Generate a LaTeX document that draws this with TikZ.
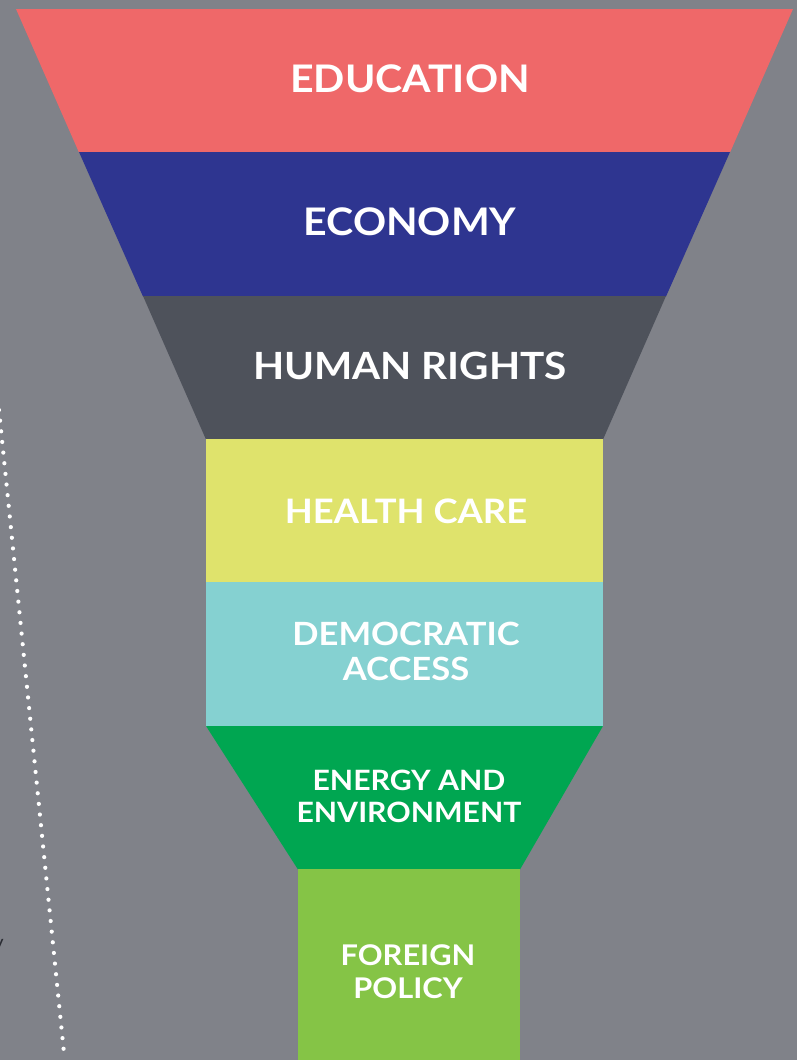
\documentclass[tikz,border=0pt]{standalone}
\usepackage{fontspec}
\setmainfont{Lato}[FakeStretch=1.08]
\newfontfamily\fragfont{Lato}
\definecolor{bg}{HTML}{808289}
\definecolor{cedu}{HTML}{EF6869}
\definecolor{ceco}{HTML}{2E3590}
\definecolor{chum}{HTML}{4E525B}
\definecolor{chea}{HTML}{DFE36C}
\definecolor{cdem}{HTML}{85D1D1}
\definecolor{cene}{HTML}{00A651}
\definecolor{cfor}{HTML}{85C446}
\definecolor{cdark}{HTML}{2A2C33}
\tikzset{
  lbl/.style={text=white, inner sep=0pt, align=center, font=\bfseries},
  dotline/.style={white, line width=4.2pt, line cap=round, dash pattern=on 0pt off 10.7pt},
}
\begin{document}
\begin{tikzpicture}[x=1pt,y=-1pt]
\fill[bg] (0,0) rectangle (797,1060);
\useasboundingbox (0,0) rectangle (797,1060);
% funnel bands
\fill[cedu] (16,9) -- (793,9) -- (730,152.5) -- (79,152.5) -- cycle;
\fill[ceco] (79,152) -- (730,152) -- (666,296.5) -- (143,296.5) -- cycle;
\fill[chum] (143,296) -- (666,296) -- (603,439.5) -- (206,439.5) -- cycle;
\fill[chea] (206,439) rectangle (603,582.5);
\fill[cdem] (206,582) rectangle (603,726.5);
\fill[cene] (206,726) -- (603,726) -- (520,869.5) -- (298,869.5) -- cycle;
\fill[cfor] (298,869) rectangle (520,1061);
% labels
\node[lbl, font=\bfseries\fontsize{38}{46}\selectfont] (edu) at (410,79) {EDUCATION};
\node[lbl, font=\bfseries\fontsize{38}{46}\selectfont] (eco) at (410,222) {ECONOMY};
\node[lbl, font=\bfseries\fontsize{37.5}{44}\selectfont] (hum) at (410,366) {HUMAN RIGHTS};
\node[lbl, font=\bfseries\fontsize{33.7}{40}\selectfont] (hea) at (406,511) {HEALTH CARE};
\node[lbl, font=\bfseries\fontsize{32}{35}\selectfont] (dem) at (406,651) {DEMOCRATIC\\ACCESS};
\node[lbl, font=\bfseries\fontsize{28}{32}\selectfont] (ene) at (409,796) {ENERGY AND\\ENVIRONMENT};
\node[lbl, font=\bfseries\fontsize{28.5}{33}\selectfont] (for) at (408,972) {FOREIGN\\POLICY};
% dotted line
\coordinate (dtop) at (-1,410);
\coordinate (dbot) at (64,1053);
\draw[dotline] (dtop) -- (dbot);
% cut-off text fragment (cut off in the reference as well)
\node[text=cdark, inner sep=0pt, anchor=base east, font=\fragfont\fontsize{20}{24}\selectfont] (frag) at (4,949) {y};
\end{tikzpicture}
\end{document}
